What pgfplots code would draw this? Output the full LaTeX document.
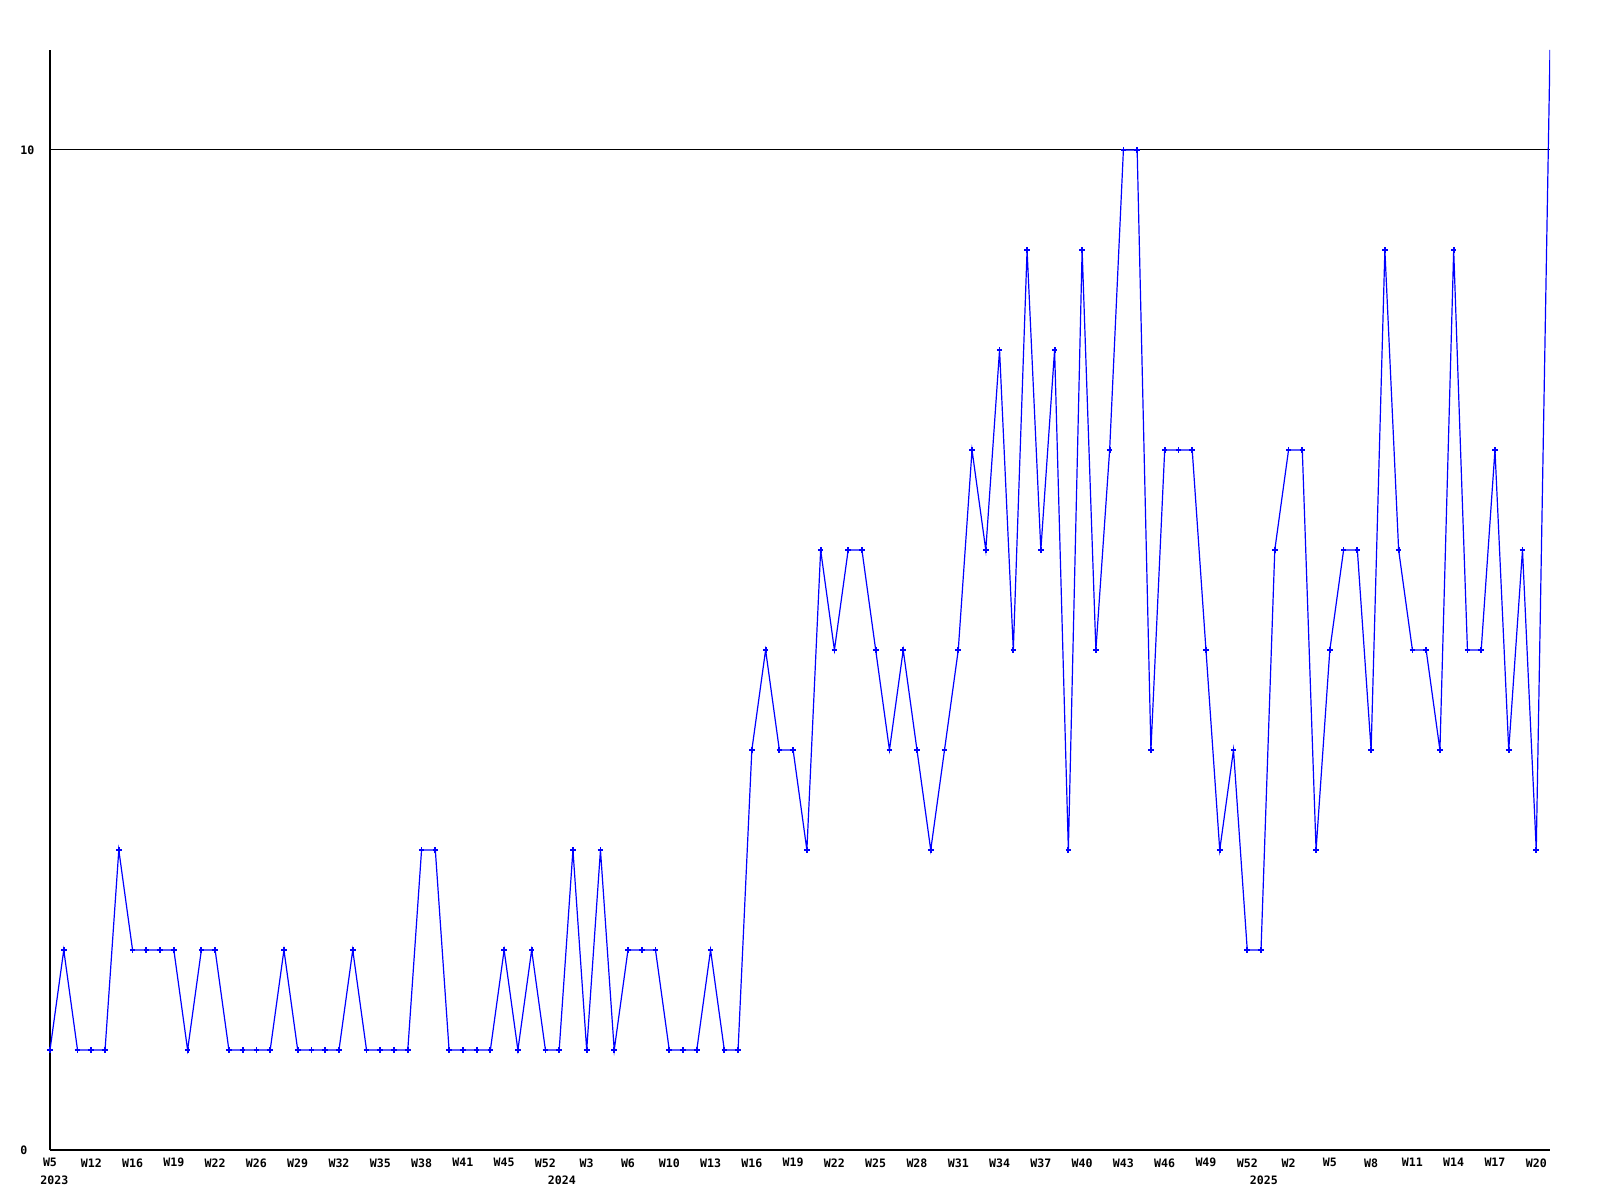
\documentclass[border=0pt]{standalone}
\usepackage{fontspec}
\setmonofont{DejaVu Sans Mono}
\usepackage{pgfplots}
\pgfplotsset{compat=1.18}
\begin{document}
\begin{tikzpicture}
\begin{axis}[
  at={(0,0)}, anchor=south west,
  scale only axis, width=750pt, height=550pt,
  xmin=0, xmax=109, ymin=0, ymax=11,
  axis x line*=bottom, axis y line*=left,
  axis line style={black, line width=0.55pt},
  xtick={0,3,...,108},
  xticklabels={W5,W12,W16,W19,W22,W26,W29,W32,W35,W38,W41,W45,W52,W3,W6,W10,W13,W16,W19,W22,W25,W28,W31,W34,W37,W40,W43,W46,W49,W52,W2,W5,W8,W11,W14,W17,W20},
  ytick={0,10},
  ymajorgrids, grid style={black, line width=0.5pt},
  major tick length=0pt,
  tick label style={font=\ttfamily\bfseries\fontsize{5.8}{6}\selectfont},
  xticklabel style={anchor=north, yshift=-4pt, inner sep=0pt},
  yticklabel style={anchor=west, xshift=-15pt, inner sep=0pt},
  /pgf/number format/assume math mode=true,
  clip mode=individual,
]
\addplot[blue, line width=0.6pt, mark=+, mark size=1.4pt, mark indices={1,...,109}, mark options={line width=0.9pt}] coordinates {
(0,1)(1,2)(2,1)(3,1)(4,1)(5,3)(6,2)(7,2)(8,2)(9,2)
(10,1)(11,2)(12,2)(13,1)(14,1)(15,1)(16,1)(17,2)(18,1)(19,1)
(20,1)(21,1)(22,2)(23,1)(24,1)(25,1)(26,1)(27,3)(28,3)(29,1)
(30,1)(31,1)(32,1)(33,2)(34,1)(35,2)(36,1)(37,1)(38,3)(39,1)
(40,3)(41,1)(42,2)(43,2)(44,2)(45,1)(46,1)(47,1)(48,2)(49,1)
(50,1)(51,4)(52,5)(53,4)(54,4)(55,3)(56,6)(57,5)(58,6)(59,6)
(60,5)(61,4)(62,5)(63,4)(64,3)(65,4)(66,5)(67,7)(68,6)(69,8)
(70,5)(71,9)(72,6)(73,8)(74,3)(75,9)(76,5)(77,7)(78,10)(79,10)
(80,4)(81,7)(82,7)(83,7)(84,5)(85,3)(86,4)(87,2)(88,2)(89,6)
(90,7)(91,7)(92,3)(93,5)(94,6)(95,6)(96,4)(97,9)(98,6)(99,5)
(100,5)(101,4)(102,9)(103,5)(104,5)(105,7)(106,4)(107,6)(108,3)(109,11)
};
\node[font=\ttfamily\bfseries\fontsize{5.8}{6}\selectfont, anchor=west, inner sep=0pt] at ([xshift=-5pt,yshift=-15pt]axis cs:0,0) {2023};
\node[font=\ttfamily\bfseries\fontsize{5.8}{6}\selectfont, inner sep=0pt] at ([yshift=-15pt]axis cs:37.2,0) {2024};
\node[font=\ttfamily\bfseries\fontsize{5.8}{6}\selectfont, inner sep=0pt] at ([yshift=-15pt]axis cs:88.2,0) {2025};
\end{axis}
\pgfresetboundingbox
\path (-25pt,-25pt) rectangle (775pt,575pt);
\end{tikzpicture}
\end{document}
